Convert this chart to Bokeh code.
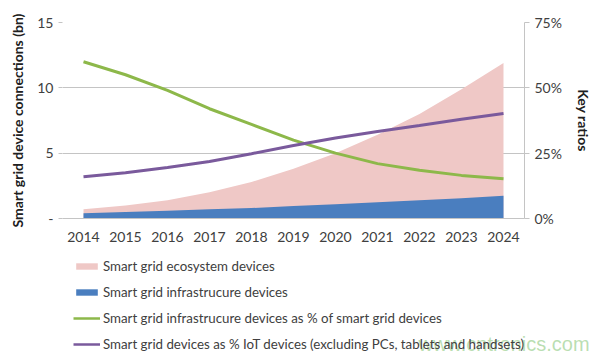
from bokeh.plotting import figure
from bokeh.layouts import column, row
from bokeh.models import Range1d, LinearAxis, Legend, LegendItem, FixedTicker, NumeralTickFormatter, Label
from bokeh.embed import file_html
from bokeh.resources import INLINE

years = [2014, 2015, 2016, 2017, 2018, 2019, 2020, 2021, 2022, 2023, 2024]
ecosystem_bn = [0.7, 1.0, 1.4, 2.0, 2.8, 3.8, 5.0, 6.4, 8.0, 9.9, 11.9]
infrastructure_bn = [0.4, 0.5, 0.6, 0.7, 0.8, 0.95, 1.1, 1.25, 1.4, 1.55, 1.75]
infra_pct_of_grid = [0.60, 0.55, 0.49, 0.42, 0.36, 0.30, 0.25, 0.21, 0.185, 0.165, 0.152]
grid_pct_of_iot = [0.16, 0.175, 0.195, 0.218, 0.248, 0.279, 0.308, 0.333, 0.356, 0.380, 0.402]
left_ticks = [0, 5, 10, 15]
right_ticks = [0, 0.25, 0.5, 0.75]
series_labels = [
    "Smart grid ecosystem devices",
    "Smart grid infrastrucure devices",
    "Smart grid infrastrucure devices as % of smart grid devices",
    "Smart grid devices as % IoT devices (excluding PCs, tablets and handsets)",
]
watermark = "www.cntronics.com"

FONT = "Lato"
TXT = "#404040"
C_ECO, C_INF, C_GR, C_PU = "#EFC8C6", "#4A7EBF", "#8DB84A", "#7A5A9C"

p = figure(width=611, height=245, output_backend="svg", toolbar_location=None,
           x_range=Range1d(2013.5, 2024.5), y_range=Range1d(0, 15),
           min_border_left=62, min_border_right=87, min_border_top=22, min_border_bottom=27)
p.extra_y_ranges = {"pct": Range1d(0, 0.75)}
p.outline_line_color = None
p.xgrid.grid_line_color = None
p.ygrid.grid_line_color = "#c4c4c4"
p.ygrid.ticker = FixedTicker(ticks=left_ticks)

p.varea(x=years, y1=0, y2=ecosystem_bn, fill_color=C_ECO)
p.varea(x=years, y1=0, y2=infrastructure_bn, fill_color=C_INF)
p.line(x=years, y=infra_pct_of_grid, y_range_name="pct", line_color=C_GR, line_width=3)
p.line(x=years, y=grid_pct_of_iot, y_range_name="pct", line_color=C_PU, line_width=3)

ya = p.yaxis[0]
ya.ticker = FixedTicker(ticks=left_ticks)
ya.major_label_overrides = {0: "-"}
ya.axis_line_color = None
ya.major_tick_line_color = "#c4c4c4"
ya.major_tick_out = 4
ya.major_tick_in = 0
ya.minor_tick_line_color = None
ya.axis_label = "Smart grid device connections (bn)"
ya.axis_label_text_font = FONT
ya.axis_label_text_font_style = "bold"
ya.axis_label_text_font_size = "14px"
ya.axis_label_text_color = "#202020"
ya.axis_label_standoff = 8
ya.major_label_text_font = FONT
ya.major_label_text_font_size = "14px"
ya.major_label_text_color = TXT

ra = LinearAxis(y_range_name="pct", ticker=FixedTicker(ticks=right_ticks),
                formatter=NumeralTickFormatter(format="0%"))
ra.axis_line_color = "#c4c4c4"
ra.major_tick_line_color = "#c4c4c4"
ra.major_tick_out = 5
ra.major_tick_in = 0
ra.minor_tick_line_color = None
ra.axis_label = "Key ratios"
ra.axis_label_text_font = FONT
ra.axis_label_text_font_style = "bold"
ra.axis_label_text_font_size = "14px"
ra.axis_label_text_color = "#202020"
ra.axis_label_standoff = 10
ra.major_label_text_font = FONT
ra.major_label_text_font_size = "14px"
ra.major_label_text_color = TXT
p.add_layout(ra, "right")

xa = p.xaxis[0]
xa.ticker = FixedTicker(ticks=years)
xa.axis_line_color = "#c4c4c4"
xa.major_tick_line_color = None
xa.minor_tick_line_color = None
xa.major_label_text_font = FONT
xa.major_label_text_font_size = "14px"
xa.major_label_text_color = TXT
xa.major_label_standoff = 7

# legend panel below the chart (same series drawn out of view so only legend swatches show)
q = figure(width=611, height=109, output_backend="svg", toolbar_location=None,
           x_axis_type=None, y_axis_type=None,
           x_range=Range1d(0, 1), y_range=Range1d(0, 1),
           min_border_left=62, min_border_right=0, min_border_top=0, min_border_bottom=0)
q.grid.grid_line_color = None
q.outline_line_color = None
r1 = q.varea(x=years, y1=0, y2=ecosystem_bn, fill_color=C_ECO)
r2 = q.varea(x=years, y1=0, y2=infrastructure_bn, fill_color=C_INF)
r3 = q.line(x=years, y=infra_pct_of_grid, line_color=C_GR, line_width=2.5)
r4 = q.line(x=years, y=grid_pct_of_iot, line_color=C_PU, line_width=2.5)

legend = Legend(items=[LegendItem(label=lab, renderers=[r])
                       for lab, r in zip(series_labels, [r1, r2, r3, r4])],
                location=(11, 0), orientation="vertical")
legend.border_line_color = None
legend.background_fill_alpha = 0
legend.padding = 0
legend.margin = 0
legend.spacing = 6
legend.glyph_width = 27
legend.glyph_height = 8
legend.label_height = 20
legend.label_standoff = 3
legend.label_text_font = FONT
legend.label_text_font_size = "13.3px"
legend.label_text_color = TXT
q.add_layout(legend, "center")

wm = Label(x=356, y=11, x_units="screen", y_units="screen", text=watermark,
           text_font="Liberation Sans", text_font_size="20px", text_color="#8CC97E",
           text_alpha=0.6, text_baseline="middle")
q.add_layout(wm)

open("out.html", "w").write(file_html(column(p, row(q), spacing=0), INLINE))
